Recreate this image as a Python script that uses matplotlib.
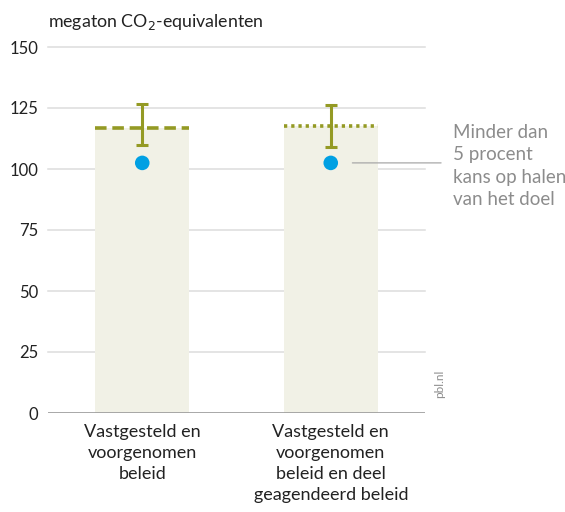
import matplotlib
matplotlib.use('Agg')
import matplotlib.pyplot as plt

categories = ['Vastgesteld en\nvoorgenomen\nbeleid',
              'Vastgesteld en\nvoorgenomen\nbeleid en deel\ngeagendeerd beleid']
central = [117.0, 117.6]
err_low = [109.8, 109.0]
err_high = [126.7, 126.2]
target = [102.5, 102.5]
line_styles = [(0, (3.2, 1.6)), (0, (0.9, 1.1))]
yticks = [0, 25, 50, 75, 100, 125, 150]

olive = '#949a24'
blue = '#00a0e3'
fill = '#f1f1e6'
grey = '#8c8c8c'

plt.rcParams['font.family'] = ['Lato', 'DejaVu Sans']

fig = plt.figure(figsize=(5.65, 5.12), dpi=100)
ax = fig.add_axes([48 / 565, 99 / 512, 377 / 565, 366 / 512])

x = list(range(len(categories)))
ax.bar(x, central, width=0.5, color=fill, zorder=1)

for i in x:
    ax.plot([i - 0.25, i + 0.25], [central[i], central[i]], color=olive, lw=2.6,
            linestyle=line_styles[i], zorder=3, solid_capstyle='butt', dash_capstyle='butt')
    ax.errorbar(i, central[i], yerr=[[central[i] - err_low[i]], [err_high[i] - central[i]]],
                fmt='none', ecolor=olive, elinewidth=2.2, capsize=4.5, capthick=2.2, zorder=4)

ax.scatter(x, target, s=110, color=blue, zorder=5, edgecolors='none')

ax.set_xlim(-0.5, 1.5)
ax.set_ylim(0, 150)
ax.set_yticks(yticks)
ax.set_yticklabels([str(t) for t in yticks], fontsize=12)
ax.set_xticks(x)
ax.set_xticklabels(categories, fontsize=13, linespacing=1.38, va='top')
ax.tick_params(axis='both', length=0, colors='#222222')
ax.tick_params(axis='y', pad=7)
ax.tick_params(axis='x', pad=8)
for side in ['top', 'right', 'left', 'bottom']:
    ax.spines[side].set_visible(False)
for t in yticks[1:]:
    ax.axhline(t, color='#dcdcdc', lw=1.1, zorder=0, clip_on=False)
ax.axhline(0, color='#9a9a9a', lw=1.2, zorder=2)

# leader line and annotation
ax.annotate('', xy=(1.1, target[1]), xytext=(1.6, target[1]),
            arrowprops=dict(arrowstyle='-', color='#a8a8a8', lw=0.9),
            annotation_clip=False)
fig.text(453 / 565, 1 - 124 / 512, 'Minder dan\n5 procent\nkans op halen\nvan het doel',
         fontsize=13.5, color=grey, va='top', ha='left', linespacing=1.38)

fig.text(48 / 565, 1 - 22 / 512, 'megaton CO$_2$-equivalenten', fontsize=12.8,
         color='#222222', va='center', ha='left')
fig.text(440 / 565, 1 - 384 / 512, 'pbl.nl', fontsize=8.5, color=grey, rotation=90,
         va='center', ha='center')

fig.savefig('out.png', dpi=100)
